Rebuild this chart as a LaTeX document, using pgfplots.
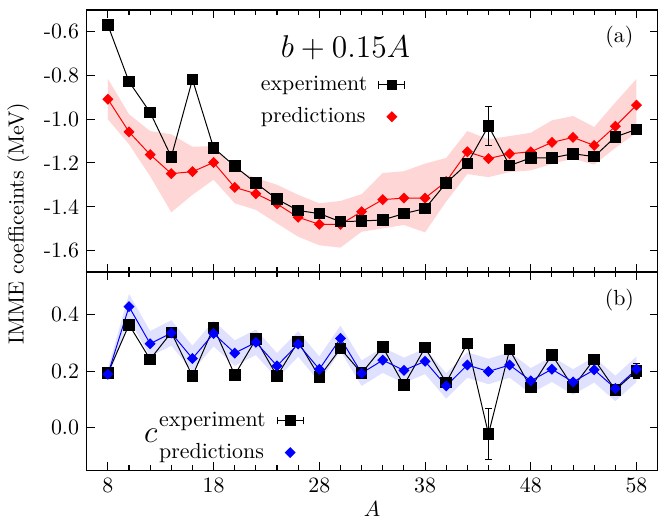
\documentclass[border=0pt]{standalone}
\usepackage{fontspec}
\usepackage{pgfplots}
\pgfplotsset{compat=1.18}

\newcommand{\spaced}[1]{{\addfontfeatures{LetterSpace=30}#1}}

\pgfplotsset{
  panel/.style={
    scale only axis, width=261pt,
    xmin=6, xmax=60,
    xtick={8,18,...,58}, minor x tick num=4,
    tick align=inside, major tick length=3.7pt, minor tick length=2.2pt,
    tick style={black, line width=0.5pt},
    axis line style={line width=0.7pt},
    legend plot pos=right,
    legend cell align=left,
    legend style={draw=none, fill=none, inner xsep=0pt, inner ysep=1pt,
                  anchor=north east, row sep=2.3pt, column sep=3pt},
  },
  expt/.style={black, line width=0.45pt, mark=square*, mark size=2.4pt,
    error bars/y dir=both, error bars/y explicit,
    error bars/error bar style={black, line width=0.5pt},
    error bars/error mark options={rotate=90, mark size=1.7pt, black, line width=0.5pt}},
  pred/.style={#1, line width=0.45pt, mark=square*,
    mark options={rotate=45, fill=#1, draw=#1}, mark size=1.55pt},
  expt legend/.style={legend image code/.code={
    \draw[black, line width=0.5pt] (0cm,0cm) -- (0.42cm,0cm)
      (0cm,-1.7pt) -- (0cm,1.7pt) (0.42cm,-1.7pt) -- (0.42cm,1.7pt);
    \draw[black, mark=square*, mark size=2.2pt, only marks] plot coordinates {(0.21cm,0cm)};}},
  pred legend/.style={legend image code/.code={
    \draw[##1, only marks] plot coordinates {(0.21cm,0cm)};}},
}

\begin{document}
\begin{tikzpicture}
\begin{axis}[panel, name=top, height=119.8pt,
  ymin=-1.7, ymax=-0.5,
  ytick={-1.6,-1.4,-1.2,-1.0,-0.8,-0.6},
  yticklabels={-1.6,-1.4,-1.2,-1.0,-0.8,-0.6},
  xticklabels={},
  ylabel={IMME coefficeints (MeV)},
  ylabel style={at={(axis description cs:-0.12,0.185)}, anchor=center},
  legend style={at={(axis description cs:0.559,0.775)}},
]
\addplot[draw=none, fill=red!16, forget plot] coordinates {
 (8,-0.815) (10,-0.977) (12,-1.054) (14,-1.069) (16,-1.126) (18,-1.123)
 (20,-1.231) (22,-1.269) (24,-1.300) (26,-1.346) (28,-1.385) (30,-1.374)
 (32,-1.343) (34,-1.246) (36,-1.238) (38,-1.203) (40,-1.177) (42,-1.054)
 (44,-1.092) (46,-1.077) (48,-1.062) (50,-1.005) (52,-0.985) (54,-1.035)
 (56,-0.923) (58,-0.815)
 (58,-1.062) (56,-1.131) (54,-1.208) (52,-1.180) (50,-1.205) (48,-1.234)
 (46,-1.242) (44,-1.265) (42,-1.251) (40,-1.377) (38,-1.518) (36,-1.484)
 (34,-1.500) (32,-1.515) (30,-1.588) (28,-1.577) (26,-1.538) (24,-1.477)
 (22,-1.415) (20,-1.385) (18,-1.277) (16,-1.346) (14,-1.426) (12,-1.261)
 (10,-1.115) (8,-1.000)} -- cycle;
\addplot[pred=red, forget plot] coordinates {
 (8,-0.908) (10,-1.058) (12,-1.162) (14,-1.249) (16,-1.240) (18,-1.198)
 (20,-1.312) (22,-1.341) (24,-1.388) (26,-1.449) (28,-1.481) (30,-1.481)
 (32,-1.423) (34,-1.368) (36,-1.361) (38,-1.361) (40,-1.285) (42,-1.149)
 (44,-1.180) (46,-1.158) (48,-1.149) (50,-1.106) (52,-1.083) (54,-1.120)
 (56,-1.032) (58,-0.935)};
\addplot[expt, expt legend] coordinates {
 (8,-0.569) (10,-0.828) (12,-0.969) (14,-1.172) (16,-0.818) (18,-1.131)
 (20,-1.215) (22,-1.292) (24,-1.366) (26,-1.418) (28,-1.432) (30,-1.469)
 (32,-1.466) (34,-1.461) (36,-1.432) (38,-1.409) (40,-1.292) (42,-1.203)
 (44,-1.031) +- (0,0.09) (46,-1.212) (48,-1.177) (50,-1.177) (52,-1.158)
 (54,-1.171) (56,-1.081) (58,-1.046) +- (0,0.012)};
\addlegendentry{\spaced{experiment}}
\addlegendimage{pred=red, pred legend}
\addlegendentry{\spaced{predictions}}
\node at (axis description cs:0.453,0.858) {\Large $b+0.15A$};
\node at (axis description cs:0.933,0.896) {(a)};
\end{axis}

\begin{axis}[panel, at={(top.south west)}, anchor=north west, height=90.6pt,
  ymin=-0.15, ymax=0.55,
  ytick={0,0.2,0.4}, yticklabels={0.0,0.2,0.4},
  xticklabels={8,18,28,38,48,58},
  xlabel={$A$},
  xlabel style={yshift=3pt},
  legend style={at={(axis description cs:0.381,0.33)}},
]
\addplot[draw=none, fill=blue!12, forget plot] coordinates {
 (8,0.209) (10,0.473) (12,0.342) (14,0.380) (16,0.290) (18,0.378)
 (20,0.309) (22,0.347) (24,0.264) (26,0.341) (28,0.252) (30,0.361)
 (32,0.238) (34,0.284) (36,0.248) (38,0.280) (40,0.193) (42,0.267)
 (44,0.244) (46,0.267) (48,0.211) (50,0.252) (52,0.207) (54,0.250)
 (56,0.184) (58,0.252)
 (58,0.162) (56,0.094) (54,0.160) (52,0.117) (50,0.162) (48,0.121)
 (46,0.177) (44,0.154) (42,0.177) (40,0.103) (38,0.190) (36,0.158)
 (34,0.194) (32,0.148) (30,0.271) (28,0.162) (26,0.251) (24,0.174)
 (22,0.257) (20,0.219) (18,0.288) (16,0.200) (14,0.290) (12,0.252)
 (10,0.383) (8,0.169)} -- cycle;
\addplot[expt, expt legend] coordinates {
 (8,0.193) (10,0.364) (12,0.242) (14,0.337) (16,0.183) (18,0.355)
 (20,0.187) (22,0.313) (24,0.183) (26,0.305) (28,0.180) (30,0.280)
 (32,0.193) (34,0.285) (36,0.151) (38,0.283) (40,0.160) (42,0.298)
 (44,-0.022) +- (0,0.09) (46,0.276) (48,0.142) (50,0.258) (52,0.144)
 (54,0.242) (56,0.134) (58,0.201) +- (0,0.025)};
\addlegendentry{\spaced{experiment}}
\addplot[pred=blue, pred legend] coordinates {
 (8,0.189) (10,0.428) (12,0.297) (14,0.335) (16,0.245) (18,0.333)
 (20,0.264) (22,0.302) (24,0.219) (26,0.296) (28,0.207) (30,0.316)
 (32,0.193) (34,0.239) (36,0.203) (38,0.235) (40,0.148) (42,0.222)
 (44,0.199) (46,0.222) (48,0.166) (50,0.207) (52,0.162) (54,0.205)
 (56,0.139) (58,0.207)};
\addlegendentry{\spaced{predictions}}
\node at (axis description cs:0.112,0.176) {\Large $c$};
\node at (axis description cs:0.933,0.858) {(b)};
\end{axis}
\path ([yshift=4.6pt,xshift=2pt]top.north east);
\end{tikzpicture}
\end{document}
